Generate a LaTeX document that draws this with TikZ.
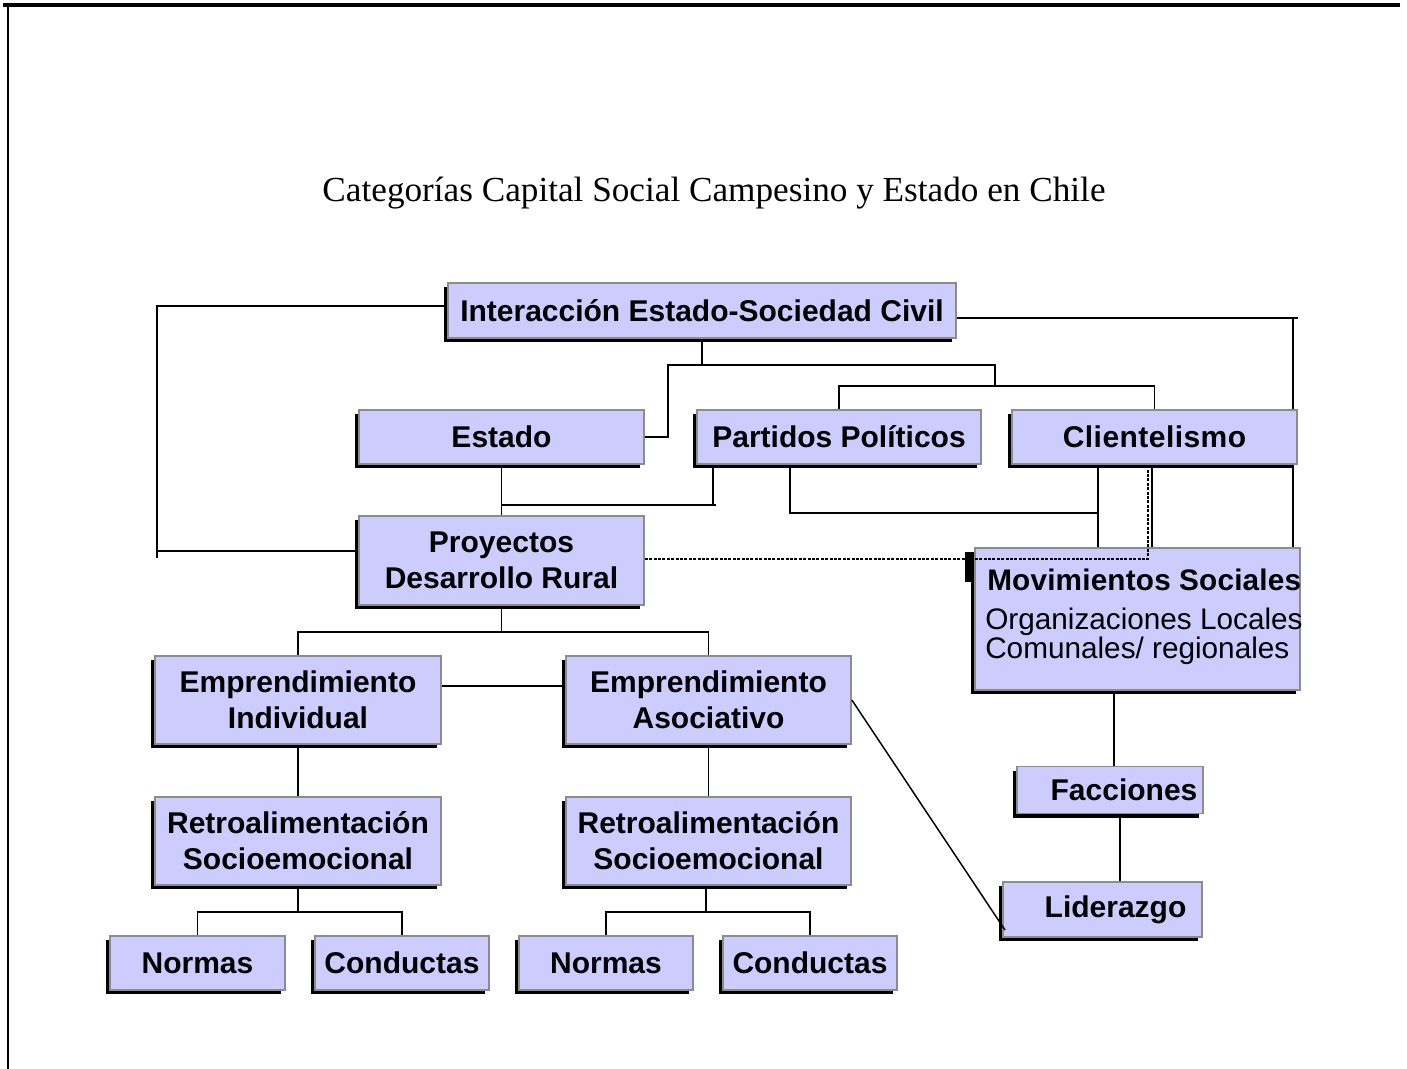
\documentclass[tikz,border=0pt]{standalone}
\usepackage{fontspec}
\setmainfont{Liberation Sans}
\newfontfamily\titlefont{Liberation Serif}
\usetikzlibrary{shadows}
\definecolor{lav}{HTML}{CCCCFF}
\definecolor{boxgray}{HTML}{8C8C8C}
\pgfdeclarelayer{bg}
\pgfsetlayers{bg,main}
\tikzset{
  box/.style={draw=boxgray, line width=1.3pt, fill=lav, inner sep=0pt,
    general shadow={fill=black, shadow xshift=-3.2pt, shadow yshift=-3.2pt},
    font=\fontsize{22.5}{27}\selectfont\bfseries, align=center},
  sz/.style 2 args={minimum width=#1*0.75pt, minimum height=#2*0.75pt},
  conn/.style={line width=1.45pt, line cap=rect},
  dotconn/.style={line width=1.7pt, dash pattern=on 2.2pt off 1.1pt},
  movtext/.style={anchor=base west, inner sep=0pt, font=\fontsize{22.3}{27}\selectfont}
}
\begin{document}
\begin{tikzpicture}[x=0.75pt, y=-0.75pt]
\useasboundingbox (0,0) rectangle (1407,1069);
% page frame
\draw[line width=2.6pt] (3,5) -- (1400,5);
\draw[line width=1.2pt] (8,5) -- (8,1069);
% title
\node[font=\titlefont\fontsize{26.4}{30}\selectfont] (title) at (714,193) {Categorías Capital Social Campesino y Estado en Chile};

% boxes
\node[box, sz={508}{55}] (inter) at (702,310.5) {Interacción Estado-Sociedad Civil};
\node[box, sz={285}{54}] (estado) at (501.5,437) {Estado};
\node[box, sz={284}{54}] (partidos) at (839,437) {Partidos Políticos};
\node[box, sz={285}{54}] (client) at (1154.5,437) {\addfontfeature{LetterSpace=1.5}Clientelismo};
\node[box, sz={285}{89}] (proy) at (501.5,560.5) {Proyectos\\Desarrollo Rural};
\fill (965,552) rectangle (971,582);
\node[box, sz={325}{142}] (movs) at (1137.5,619) {};
\node[box, sz={286}{88}] (empi) at (298,700) {Emprendimiento\\Individual};
\node[box, sz={285}{88}] (empa) at (708.5,700) {Emprendimiento\\Asociativo};
\node[box, sz={286}{88}] (reti) at (298,841) {Retroalimentación\\Socioemocional};
\node[box, sz={285}{88}] (reta) at (708.5,841) {Retroalimentación\\Socioemocional};
\node[box, sz={175}{54}] (norm1) at (197.5,963) {Normas};
\node[box, sz={174}{54}] (cond1) at (402,963) {Conductas};
\node[box, sz={174}{54}] (norm2) at (606,963) {Normas};
\node[box, sz={174}{54}] (cond2) at (810,963) {Conductas};
\node[box, sz={186}{47}] (facc) at (1110,790) {\hspace*{21pt}Facciones};
\node[box, sz={199}{55}] (lider) at (1102.5,909.5) {\hspace*{19.5pt}Liderazgo};

% Movimientos text
\node[movtext, font=\fontsize{22.3}{27}\selectfont\bfseries\addfontfeature{LetterSpace=0.6}] (movt1) at (987,590) {Movimientos Sociales};
\node[movtext] (movt2) at (985,629) {Organizaciones Locales};
\node[movtext] (movt3) at (985,658) {Comunales/ regionales};

% coordinates
\coordinate (c1a) at (157,306);
\coordinate (c1b) at (157,551);
\coordinate (c1c) at (157,557);
\coordinate (j1) at (702,365);
\coordinate (j2) at (668,365);
\coordinate (j3) at (995,365);
\coordinate (j4) at (995,386);
\coordinate (r1) at (1297,318);
\coordinate (r2) at (1293,318);
\coordinate (e1) at (501.5,505);
\coordinate (e2) at (715,505);
\coordinate (e3) at (713,505);
\coordinate (p1) at (790,513);
\coordinate (p2) at (1098,513);
\coordinate (s1) at (1152,500);
\coordinate (d1) at (1148,559);
\coordinate (d0) at (644,559);
\coordinate (q) at (501.5,632);
\coordinate (k) at (500,686);
\coordinate (d2) at (1005,930);
\coordinate (t1) at (298,912);
\coordinate (t2) at (706,912);
\coordinate (m) at (1114,700);
\coordinate (f) at (1120,800);

\begin{pgfonlayer}{bg}
\draw[conn] (c1a -| inter.west) -- (c1a) -- (c1c);
\draw[conn] (c1b) -- (c1b -| proy.west);
\draw[conn] (inter.south) -- (j1);
\draw[conn] (estado.east) -| (j2) -- (j3) -- (j4);
\draw[conn] (partidos.north) |- (j4) -| (client.north);
\draw[conn] (r1 -| inter.east) -- (r1);
\draw[conn] (r2) -- (r2 |- client.north);
\draw[conn] (r2 |- client.south) -- (r2 |- movs.north);
\draw[conn] (estado.south) -- (proy.north);
\draw[conn] (e1) -- (e2);
\draw[conn] (e3) -- (e3 |- partidos.south);
\draw[conn] (p1 |- partidos.south) -- (p1) -- (p2);
\draw[conn] (p2 |- client.south) -- (p2 |- movs.north);
\draw[conn] (s1 |- client.south) -- (s1 |- movs.north);
\draw[conn] (proy.south) -- (q);
\draw[conn] (empi.north) |- (q) -| (empa.north);
\draw[conn] (k -| empi.east) -- (k -| empa.west);
\draw[conn] (empi.south) -- (reti.north);
\draw[conn] (empa.south) -- (reta.north);
\draw[conn] (reti.south) -- (t1);
\draw[conn] (norm1.north) |- (t1) -| (cond1.north);
\draw[conn] (t2 |- reta.south) -- (t2);
\draw[conn] (norm2.north) |- (t2) -| (cond2.north);
\draw[conn] (m |- movs.south) -- (m |- facc.north);
\draw[conn] (f |- facc.south) -- (f |- lider.north);
\end{pgfonlayer}
\draw[dotconn] (d0 -| proy.east) -- (d1) -- (d1 |- client.south);
\draw[line width=1.1pt] (empa.east) -- (d2);
\end{tikzpicture}
\end{document}
